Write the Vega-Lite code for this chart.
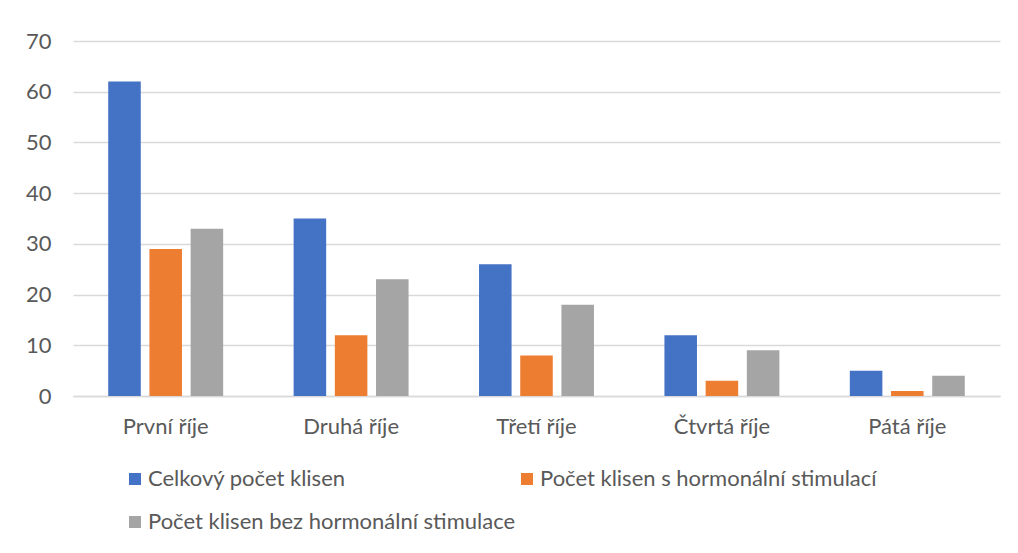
{
  "$schema": "https://vega.github.io/schema/vega-lite/v6.json",
  "autosize": "none",
  "width": 927,
  "height": 355,
  "padding": {"left": 73, "top": 41, "right": 18, "bottom": 157},
  "background": "white",
  "config": {
    "view": {"stroke": null},
    "font": "Lato",
    "axis": {"labelFont": "Lato", "labelColor": "#595959", "labelFontSize": 22}
  },
  "data": {
    "values": [
      {"cat": "První říje", "series": "Celkový počet klisen", "v": 62},
      {"cat": "První říje", "series": "Počet klisen s hormonální stimulací", "v": 29},
      {"cat": "První říje", "series": "Počet klisen bez hormonální stimulace", "v": 33},
      {"cat": "Druhá říje", "series": "Celkový počet klisen", "v": 35},
      {"cat": "Druhá říje", "series": "Počet klisen s hormonální stimulací", "v": 12},
      {"cat": "Druhá říje", "series": "Počet klisen bez hormonální stimulace", "v": 23},
      {"cat": "Třetí říje", "series": "Celkový počet klisen", "v": 26},
      {"cat": "Třetí říje", "series": "Počet klisen s hormonální stimulací", "v": 8},
      {"cat": "Třetí říje", "series": "Počet klisen bez hormonální stimulace", "v": 18},
      {"cat": "Čtvrtá říje", "series": "Celkový počet klisen", "v": 12},
      {"cat": "Čtvrtá říje", "series": "Počet klisen s hormonální stimulací", "v": 3},
      {"cat": "Čtvrtá říje", "series": "Počet klisen bez hormonální stimulace", "v": 9},
      {"cat": "Pátá říje", "series": "Celkový počet klisen", "v": 5},
      {"cat": "Pátá říje", "series": "Počet klisen s hormonální stimulací", "v": 1},
      {"cat": "Pátá říje", "series": "Počet klisen bez hormonální stimulace", "v": 4}
    ]
  },
  "mark": {"type": "bar"},
  "encoding": {
    "x": {
      "field": "cat", "type": "nominal", "sort": null,
      "scale": {"paddingInner": 0.38, "paddingOuter": 0.19},
      "axis": {"title": null, "labelAngle": 0, "ticks": false, "domainColor": "#D9D9D9", "domainWidth": 1.5, "labelPadding": 20}
    },
    "xOffset": {
      "field": "series", "type": "nominal", "sort": null,
      "scale": {"paddingInner": 0.21, "paddingOuter": 0}
    },
    "y": {
      "field": "v", "type": "quantitative",
      "scale": {"domain": [0, 70]},
      "axis": {"title": null, "values": [0,10,20,30,40,50,60,70], "labelOverlap": false, "labelFlush": false, "ticks": false, "domain": false, "gridColor": "#D9D9D9", "gridWidth": 1.5, "labelPadding": 22}
    },
    "color": {
      "field": "series", "type": "nominal", "sort": null,
      "scale": {
        "domain": ["Celkový počet klisen", "Počet klisen s hormonální stimulací", "Počet klisen bez hormonální stimulace"],
        "range": ["#4472C4", "#ED7D31", "#A5A5A5"]
      },
      "legend": {
        "title": null,
        "orient": "none",
        "legendX": 51,
        "legendY": 427,
        "direction": "horizontal",
        "columns": 2,
        "symbolType": "square",
        "symbolSize": 144,
        "symbolStrokeWidth": 0,
        "labelFont": "Lato",
        "labelFontSize": 22,
        "labelColor": "#595959",
        "labelOffset": 2,
        "rowPadding": 21,
        "columnPadding": 0,
        "labelLimit": 500
      }
    }
  }
}
